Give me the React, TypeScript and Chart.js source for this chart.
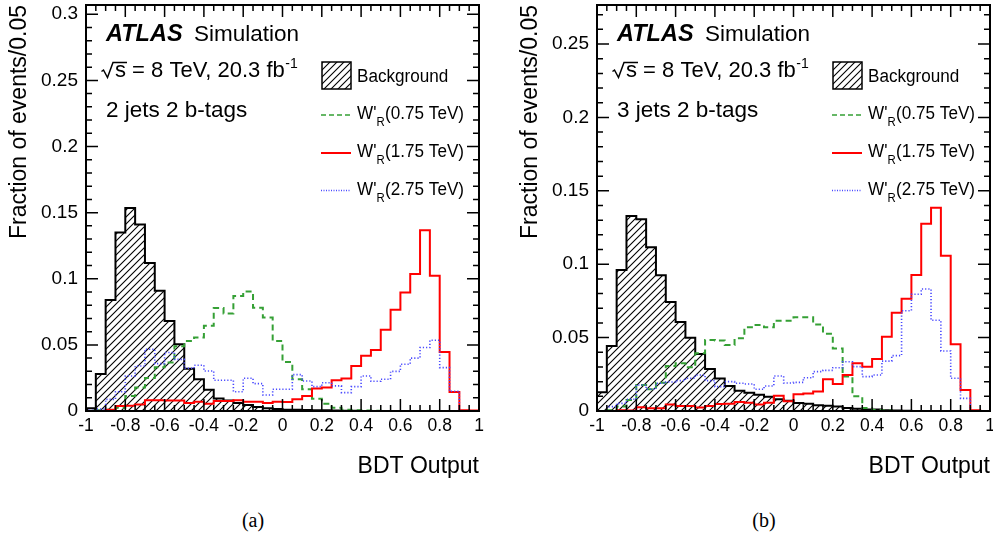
import React, { useEffect, useRef } from 'react';
import { Chart, registerables } from 'chart.js';

Chart.register(...registerables);

const SANS = "'Liberation Sans', Arial, Helvetica, sans-serif";

// Bin low edges of BDT output (bin width 0.05)
const BIN_LOW = [
  -1, -0.95, -0.9, -0.85, -0.8, -0.75, -0.7, -0.65, -0.6, -0.55,
  -0.5, -0.45, -0.4, -0.35, -0.3, -0.25, -0.2, -0.15, -0.1, -0.05,
  0, 0.05, 0.1, 0.15, 0.2, 0.25, 0.3, 0.35, 0.4, 0.45,
  0.5, 0.55, 0.6, 0.65, 0.7, 0.75, 0.8, 0.85, 0.9, 0.95,
];
const X_MIN = -1;
const X_MAX = 1;

const SERIES_LABELS = ['Background', "W'R(0.75 TeV)", "W'R(1.75 TeV)", "W'R(2.75 TeV)"];
const MASS_LABELS = ['(0.75 TeV)', '(1.75 TeV)', '(2.75 TeV)'];

// ---- Panel (a): 2 jets 2 b-tags ----
const BG_A = [
  0.002, 0.028, 0.084, 0.135, 0.1535, 0.141, 0.112, 0.091, 0.068, 0.0505,
  0.032, 0.024, 0.016, 0.0095, 0.008, 0.006, 0.0045, 0.003, 0.002, 0.0015,
  0.001, 0.001, 0.0008, 0.0006, 0.0005, 0.0003, 0.0002, 0.0001, 0, 0,
  0, 0, 0, 0, 0, 0, 0, 0, 0, 0,
];
const GREEN_A = [
  0, 0.0005, 0.001, 0.0025, 0.0114, 0.0177, 0.025, 0.033, 0.0366, 0.049,
  0.053, 0.0556, 0.0644, 0.0778, 0.0737, 0.087, 0.0904, 0.078, 0.0707, 0.053,
  0.037, 0.024, 0.0164, 0.0093, 0.0055, 0.0025, 0.001, 0.0005, 0.0003, 0.0002,
  0, 0, 0, 0, 0, 0, 0, 0, 0, 0,
];
const RED_A = [
  0, 0, 0.001, 0.0038, 0.004, 0.005, 0.0081, 0.0081, 0.008, 0.008,
  0.006, 0.007, 0.0055, 0.0075, 0.0075, 0.0081, 0.007, 0.007, 0.006, 0.007,
  0.0068, 0.0088, 0.0114, 0.017, 0.0177, 0.0232, 0.0245, 0.034, 0.0417, 0.0462,
  0.0614, 0.0765, 0.0896, 0.1035, 0.1366, 0.1023, 0.0447, 0.0144, 0.0005, 0.0003,
];
const BLUE_A = [
  0.0005, 0.0015, 0.0088, 0.0146, 0.0265, 0.034, 0.0467, 0.0358, 0.0442, 0.039,
  0.0323, 0.0346, 0.0303, 0.0232, 0.0232, 0.0146, 0.0248, 0.0207, 0.0121, 0.0164,
  0.0164, 0.0275, 0.0227, 0.0184, 0.0214, 0.019, 0.0139, 0.0184, 0.0265, 0.0225,
  0.024, 0.03, 0.0354, 0.04, 0.048, 0.0535, 0.0328, 0.0149, 0.0002, 0,
];

// ---- Panel (b): 3 jets 2 b-tags ----
const BG_B = [
  0.0128, 0.0442, 0.096, 0.1328, 0.1306, 0.1115, 0.0924, 0.0743, 0.0607, 0.0499,
  0.0388, 0.0286, 0.0222, 0.017, 0.0138, 0.0125, 0.011, 0.0097, 0.008, 0.007,
  0.0055, 0.005, 0.004, 0.0035, 0.003, 0.002, 0.0015, 0.001, 0.001, 0.0005,
  0.0003, 0.0002, 0, 0, 0, 0, 0, 0, 0, 0,
];
const GREEN_B = [
  0, 0.0005, 0.003, 0.0075, 0.0177, 0.0148, 0.0193, 0.0307, 0.0325, 0.0298,
  0.0393, 0.0484, 0.048, 0.045, 0.0495, 0.057, 0.0586, 0.057, 0.0615, 0.0615,
  0.0638, 0.0638, 0.059, 0.0527, 0.0425, 0.0235, 0.01, 0.002, 0.0007, 0.0003,
  0, 0, 0, 0, 0, 0, 0, 0, 0, 0,
];
const RED_B = [
  0, 0, 0.0005, 0.0003, 0.0025, 0.0018, 0.0018, 0.0045, 0.0034, 0.0034,
  0.0023, 0.0034, 0.0048, 0.005, 0.0061, 0.0057, 0.0045, 0.0057, 0.0104, 0.0066,
  0.0114, 0.012, 0.0132, 0.0216, 0.0184, 0.0245, 0.0325, 0.0302, 0.0354, 0.0506,
  0.067, 0.0765, 0.0926, 0.1276, 0.1385, 0.1058, 0.0454, 0.0143, 0.0005, 0,
];
const BLUE_B = [
  0, 0.003, 0.0052, 0.008, 0.0177, 0.0148, 0.0189, 0.0198, 0.0207, 0.0223,
  0.0245, 0.0207, 0.0166, 0.02, 0.0189, 0.0184, 0.0148, 0.017, 0.0238, 0.0191,
  0.0195, 0.0227, 0.0268, 0.0277, 0.0295, 0.0336, 0.0302, 0.0234, 0.0245, 0.034,
  0.0377, 0.0683, 0.0795, 0.0831, 0.0618, 0.0409, 0.0223, 0.0086, 0.0002, 0,
];

const Y_MAX_A = 0.307;
const Y_MAX_B = 0.2766;

const COLORS = { bg: '#000000', green: '#35a035', red: '#ff0000', blue: '#4848ff' };

function histPoints(vals: number[]) {
  const pts: { x: number; y: number }[] = [{ x: BIN_LOW[0], y: 0 }];
  vals.forEach((v, i) => pts.push({ x: BIN_LOW[i], y: v }));
  pts.push({ x: X_MAX, y: vals[vals.length - 1] });
  pts.push({ x: X_MAX, y: 0 });
  return pts;
}

function fmt(v: number) {
  const n = Math.round(v * 1000) / 1000;
  return n === 0 ? '0' : String(n);
}

type PanelProps = {
  left: number;
  width: number;
  height: number;
  bg: number[];
  green: number[];
  red: number[];
  blue: number[];
  ymax: number;
  channel: string;
};

function Panel({ left, width, height, bg, green, red, blue, ymax, channel }: PanelProps) {
  const ref = useRef<HTMLCanvasElement>(null);

  useEffect(() => {
    const canvas = ref.current!;
    const ctx = canvas.getContext('2d')!;

    // hatch pattern
    const p = 7;
    const pc = document.createElement('canvas');
    pc.width = p;
    pc.height = p;
    const g = pc.getContext('2d')!;
    g.strokeStyle = '#000';
    g.lineWidth = 1.1;
    g.beginPath();
    g.moveTo(-1, p + 1); g.lineTo(p + 1, -1);
    g.moveTo(-1, 1); g.lineTo(1, -1);
    g.moveTo(p - 1, p + 1); g.lineTo(p + 1, p - 1);
    g.stroke();
    const hatch = ctx.createPattern(pc, 'repeat')!;

    const frameTicks = {
      id: 'frameTicks',
      afterDatasetsDraw(chart: any) {
        const { ctx: c, chartArea: a, scales } = chart;
        const xs = scales.x;
        const ys = scales.y;
        c.save();
        c.strokeStyle = '#000';
        c.lineWidth = 1.5;
        c.beginPath();
        for (let i = 0; i <= 40; i++) {
          const px = xs.getPixelForValue(X_MIN + i * 0.05);
          const len = i % 4 === 0 ? 12 : 6;
          c.moveTo(px, a.bottom); c.lineTo(px, a.bottom - len);
          c.moveTo(px, a.top); c.lineTo(px, a.top + len);
        }
        for (let i = 0; i * 0.01 <= ys.max + 1e-9; i++) {
          const py = ys.getPixelForValue(i * 0.01);
          const len = i % 5 === 0 ? 12 : 6;
          c.moveTo(a.left, py); c.lineTo(a.left + len, py);
          c.moveTo(a.right, py); c.lineTo(a.right - len, py);
        }
        c.stroke();
        c.lineWidth = 2;
        c.strokeRect(a.left, a.top, a.right - a.left, a.bottom - a.top);
        c.restore();
      },
    };

    const annotate = {
      id: 'annotate',
      afterDraw(chart: any) {
        const c: CanvasRenderingContext2D = chart.ctx;
        c.save();
        c.fillStyle = '#000';
        c.strokeStyle = '#000';
        c.textAlign = 'left';
        c.textBaseline = 'alphabetic';
        c.font = `italic bold 23.5px ${SANS}`;
        c.fillText('ATLAS', 106, 41);
        c.font = `22.5px ${SANS}`;
        c.fillText('Simulation', 194, 41);

        // sqrt(s)
        c.lineWidth = 1.5;
        c.beginPath();
        c.moveTo(101.5, 71.5);
        c.lineTo(103.5, 70);
        c.lineTo(107.5, 77.5);
        c.lineTo(113, 62.5);
        c.lineTo(127, 62.5);
        c.stroke();
        c.font = `22px ${SANS}`;
        const main = 's = 8 TeV, 20.3 fb';
        c.fillText(main, 115, 77.3);
        const w = c.measureText(main).width;
        c.font = `14px ${SANS}`;
        c.fillText('-1', 115 + w + 0.5, 67.5);

        c.font = `22.5px ${SANS}`;
        c.fillText(channel, 106, 117);

        // legend
        c.fillStyle = hatch;
        c.fillRect(322, 62, 29, 27);
        c.lineWidth = 1.5;
        c.strokeRect(322, 62, 29, 27);

        const rows = [
          { y: 115, color: COLORS.green, dash: [5, 3], lw: 1.5 },
          { y: 153, color: COLORS.red, dash: [], lw: 2 },
          { y: 190.5, color: COLORS.blue, dash: [1, 1.5], lw: 1.5 },
        ];
        rows.forEach((r) => {
          c.strokeStyle = r.color;
          c.lineWidth = r.lw;
          c.setLineDash(r.dash);
          c.beginPath();
          c.moveTo(321, r.y);
          c.lineTo(351, r.y);
          c.stroke();
        });
        c.setLineDash([]);

        c.fillStyle = '#000';
        const sx = 0.95;
        const drawScaled = (fn: () => void, x: number, y: number) => {
          c.save();
          c.translate(x, y);
          c.scale(sx, 1);
          fn();
          c.restore();
        };
        drawScaled(() => {
          c.font = `18px ${SANS}`;
          c.fillText(SERIES_LABELS[0], 0, 0);
        }, 357, 82);
        rows.forEach((r, i) => {
          drawScaled(() => {
            c.font = `18px ${SANS}`;
            c.fillText("W'", 0, 0);
            const w1 = c.measureText("W'").width;
            c.font = `12px ${SANS}`;
            c.fillText('R', w1, 7);
            const w2 = c.measureText('R').width;
            c.font = `18px ${SANS}`;
            c.fillText(MASS_LABELS[i], w1 + w2 + 0.5, 0);
          }, 357, r.y + 4.3);
        });
        c.restore();
      },
    };

    const chart = new Chart(ctx, {
      type: 'line',
      data: {
        datasets: [
          {
            label: SERIES_LABELS[0],
            data: histPoints(bg),
            stepped: 'before',
            borderColor: COLORS.bg,
            borderWidth: 2,
            backgroundColor: hatch as any,
            fill: 'origin',
            pointRadius: 0,
            order: 4,
          },
          {
            label: SERIES_LABELS[1],
            data: histPoints(green),
            stepped: 'before',
            borderColor: COLORS.green,
            borderWidth: 2,
            borderDash: [6, 4],
            fill: false,
            pointRadius: 0,
            order: 3,
          },
          {
            label: SERIES_LABELS[2],
            data: histPoints(red),
            stepped: 'before',
            borderColor: COLORS.red,
            borderWidth: 2,
            fill: false,
            pointRadius: 0,
            order: 2,
          },
          {
            label: SERIES_LABELS[3],
            data: histPoints(blue),
            stepped: 'before',
            borderColor: COLORS.blue,
            borderWidth: 1.6,
            borderDash: [1.2, 2],
            fill: false,
            pointRadius: 0,
            order: 1,
          },
        ] as any,
      },
      options: {
        animation: false,
        responsive: false,
        devicePixelRatio: 1,
        layout: { padding: { left: 0, top: 5, right: width - 479, bottom: 0 } },
        plugins: {
          legend: { display: false },
          tooltip: { enabled: false },
        },
        scales: {
          x: {
            type: 'linear',
            min: X_MIN,
            max: X_MAX,
            grid: { display: false, drawTicks: false },
            border: { display: false },
            ticks: {
              stepSize: 0.2,
              autoSkip: false,
              maxRotation: 0,
              padding: 5,
              color: '#000',
              font: { family: SANS, size: 17.5 },
              callback: (v: any) => fmt(Number(v)),
            },
            title: {
              display: true,
              text: 'BDT Output',
              align: 'end',
              color: '#000',
              font: { family: SANS, size: 23 },
              padding: 0,
            },
            afterFit: (s: any) => {
              s.height = 69;
              s.paddingLeft = 0;
              s.paddingRight = 0;
              s.paddingTop = 0;
              s.paddingBottom = 0;
            },
          },
          y: {
            type: 'linear',
            min: 0,
            max: ymax,
            grid: { display: false, drawTicks: false },
            border: { display: false },
            ticks: {
              stepSize: 0.05,
              includeBounds: false,
              padding: 8,
              color: '#000',
              font: { family: SANS, size: 19 },
              callback: (v: any) => fmt(Number(v)),
            },
            title: {
              display: true,
              text: 'Fraction of events/0.05',
              align: 'end',
              color: '#000',
              font: { family: SANS, size: 23 },
              padding: { top: 6, bottom: 0 },
            },
            afterFit: (s: any) => {
              s.width = 86;
              s.paddingLeft = 0;
              s.paddingRight = 0;
              s.paddingTop = 0;
              s.paddingBottom = 0;
            },
          },
        },
      } as any,
      plugins: [frameTicks, annotate],
    });

    return () => chart.destroy();
  }, [bg, green, red, blue, ymax, channel, width, height]);

  return (
    <canvas
      ref={ref}
      width={width}
      height={height}
      style={{ position: 'absolute', left, top: 0, width, height }}
    />
  );
}

export default function App() {
  return (
    <div
      style={{
        position: 'absolute',
        left: 0,
        top: 0,
        width: 993,
        height: 533,
        background: '#fff',
        overflow: 'hidden',
      }}
    >
      <Panel left={0} width={495} height={480} bg={BG_A} green={GREEN_A} red={RED_A} blue={BLUE_A} ymax={Y_MAX_A} channel="2 jets 2 b-tags" />
      <Panel left={511} width={482} height={480} bg={BG_B} green={GREEN_B} red={RED_B} blue={BLUE_B} ymax={Y_MAX_B} channel="3 jets 2 b-tags" />
      <div style={{ position: 'absolute', left: 228, top: 509, width: 50, textAlign: 'center', font: "20px 'Liberation Serif', serif", lineHeight: '22px' }}>(a)</div>
      <div style={{ position: 'absolute', left: 739, top: 509, width: 50, textAlign: 'center', font: "20px 'Liberation Serif', serif", lineHeight: '22px' }}>(b)</div>
    </div>
  );
}
